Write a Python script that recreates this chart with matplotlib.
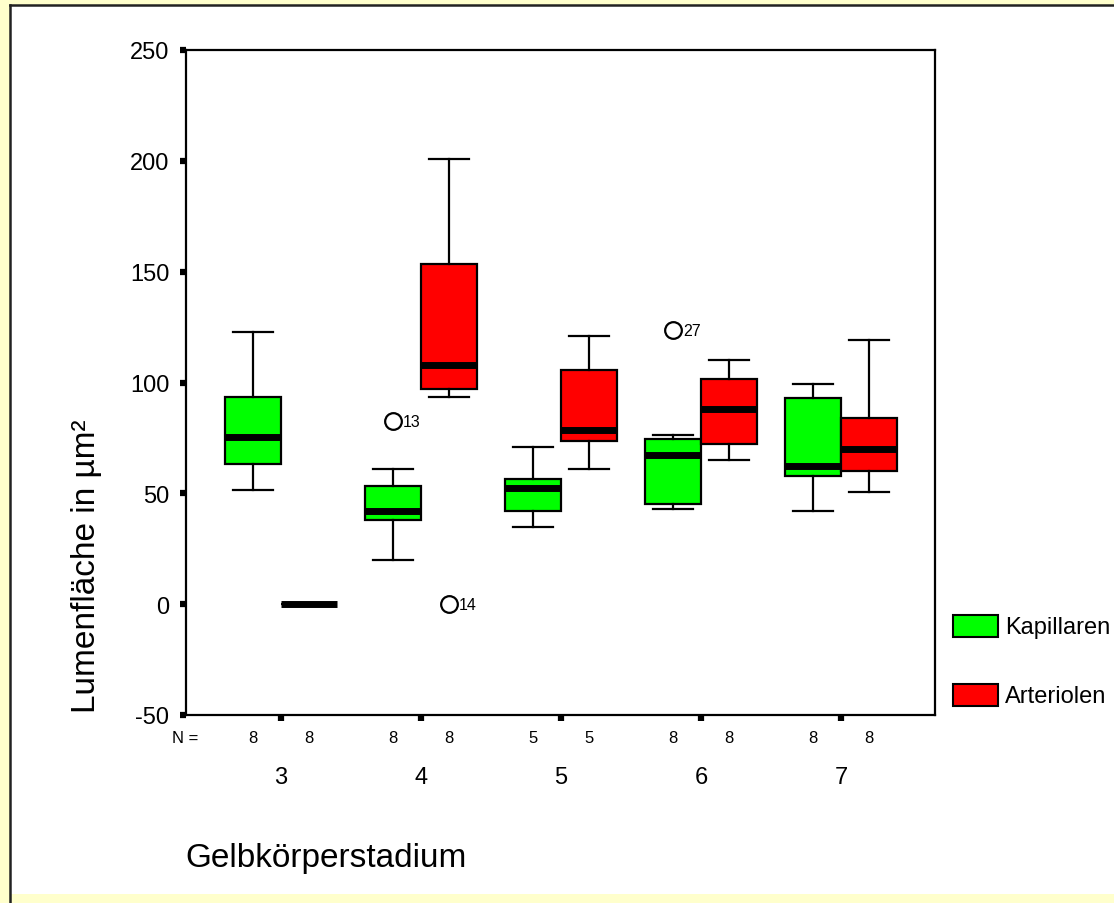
import matplotlib
matplotlib.use("Agg")
import matplotlib.pyplot as plt
from matplotlib.patches import Rectangle
from matplotlib.lines import Line2D
from matplotlib.transforms import blended_transform_factory

plt.rcParams['font.family'] = ['Liberation Sans', 'DejaVu Sans']

# ---------------- data ----------------
stages = ["3", "4", "5", "6", "7"]
series = ["Kapillaren", "Arteriolen"]
colors = ["#00ff00", "#ff0000"]

# five-number summaries per stage: (whislo, q1, med, q3, whishi)
kap_whislo = [51.4, 19.9, 34.7, 42.9, 42.0]
kap_q1     = [63.2, 37.9, 42.0, 45.1, 57.8]
kap_med    = [75.4, 42.0, 52.3, 67.2, 62.3]
kap_q3     = [93.4, 53.2, 56.4, 74.5, 93.0]
kap_whishi = [122.7, 61.0, 70.8, 76.3, 99.3]

art_whislo = [0.0, 93.4, 61.0, 65.0, 50.5]
art_q1     = [0.0, 97.0, 73.6, 72.2, 60.0]
art_med    = [0.0, 107.9, 78.5, 88.0, 70.0]
art_q3     = [0.0, 153.4, 105.6, 101.5, 84.0]
art_whishi = [0.0, 200.8, 121.0, 110.0, 119.1]

n_kap = [8, 8, 5, 8, 8]
n_art = [8, 8, 5, 8, 8]

# outliers: (series index, stage index, value, case label)
out_series = [0, 1, 0]
out_stage  = [1, 1, 3]
out_value  = [82.6, 0.0, 123.6]
out_label  = ["13", "14", "27"]

yticks = [-50, 0, 50, 100, 150, 200, 250]

# ---------------- figure ----------------
W, H = 1114, 904
fig = plt.figure(figsize=(W / 100, H / 100), dpi=100, facecolor="#ffffcc")

# white panel with border
fig.patches.append(Rectangle((10 / W, 9 / H), 1 - 10 / W, 1 - 15 / H,
                             transform=fig.transFigure, facecolor="white",
                             edgecolor="none", zorder=-10))
fig.add_artist(Line2D([10 / W, 1], [1 - 6 / H, 1 - 6 / H], transform=fig.transFigure,
                      color="#222222", lw=1.8))
fig.add_artist(Line2D([10 / W, 10 / W], [0, 1 - 6 / H], transform=fig.transFigure,
                      color="#222222", lw=1.8))

ax = fig.add_axes([186 / W, 1 - 716 / H, (935 - 186) / W, (716 - 51) / H])
ax.set_facecolor("white")

offset = 0.2
width = 0.4
stats_sets = [
    (kap_whislo, kap_q1, kap_med, kap_q3, kap_whishi),
    (art_whislo, art_q1, art_med, art_q3, art_whishi),
]
for si, (wl, q1, md, q3, wh) in enumerate(stats_sets):
    stats = []
    for i in range(len(stages)):
        fl = [v for s, st, v in zip(out_series, out_stage, out_value) if s == si and st == i]
        stats.append(dict(whislo=wl[i], q1=q1[i], med=md[i], q3=q3[i], whishi=wh[i],
                          fliers=fl, label=stages[i]))
    pos = [i + (-offset if si == 0 else offset) for i in range(len(stages))]
    ax.bxp(stats, positions=pos, widths=width, capwidths=0.29, patch_artist=True,
           showfliers=True, manage_ticks=False,
           boxprops=dict(facecolor=colors[si], edgecolor="black", linewidth=1.6),
           medianprops=dict(color="black", linewidth=5.0, solid_capstyle="butt"),
           whiskerprops=dict(color="black", linewidth=1.6),
           capprops=dict(color="black", linewidth=1.6),
           flierprops=dict(marker="o", markersize=12, markerfacecolor="none",
                           markeredgecolor="black", markeredgewidth=1.6))

# outlier case labels
for s, st, v, lab in zip(out_series, out_stage, out_value, out_label):
    x = st + (-offset if s == 0 else offset)
    ax.annotate(lab, (x, v), xytext=(7, 0), textcoords="offset points",
                ha="left", va="center", fontsize=11.5)

ax.set_xlim(-0.679, 4.671)
ax.set_ylim(-50, 250)
ax.set_yticks(yticks)
ax.set_yticklabels([str(t) for t in yticks], fontsize=17)
ax.set_xticks(range(len(stages)))
ax.set_xticklabels(stages, fontsize=17)
ax.tick_params(axis="y", direction="out", length=4, width=4.5, pad=8)
ax.tick_params(axis="x", direction="out", length=4.5, width=4.5, pad=32)
for sp in ax.spines.values():
    sp.set_linewidth(1.6)
    sp.set_color("black")

# N row
tr = blended_transform_factory(ax.transData, fig.transFigure)
ny = 1 - 739 / H
fig.text(185 / W, ny, "N =", ha="center", va="center", fontsize=12)
for i in range(len(stages)):
    ax.text(i - offset, ny, str(n_kap[i]), transform=tr, ha="center", va="center", fontsize=12)
    ax.text(i + offset, ny, str(n_art[i]), transform=tr, ha="center", va="center", fontsize=12)

# axis titles
fig.text(87 / W, 1 - 566 / H, "Lumenfläche in µm²", rotation=90, ha="center",
         va="center", fontsize=24)
fig.text(185 / W, 1 - 867 / H, "Gelbkörperstadium", ha="left", va="baseline", fontsize=24)

# legend
leg_y = [616, 685]
for si in range(2):
    fig.patches.append(Rectangle((953 / W, 1 - (leg_y[si] + 22) / H), 45 / W, 22 / H,
                                 transform=fig.transFigure, facecolor=colors[si],
                                 edgecolor="black", linewidth=1.5))
    fig.text(1005 / W, 1 - (leg_y[si] + 12) / H, series[si], ha="left", va="center",
             fontsize=17)

fig.savefig("out.png", dpi=100, facecolor=fig.get_facecolor())
